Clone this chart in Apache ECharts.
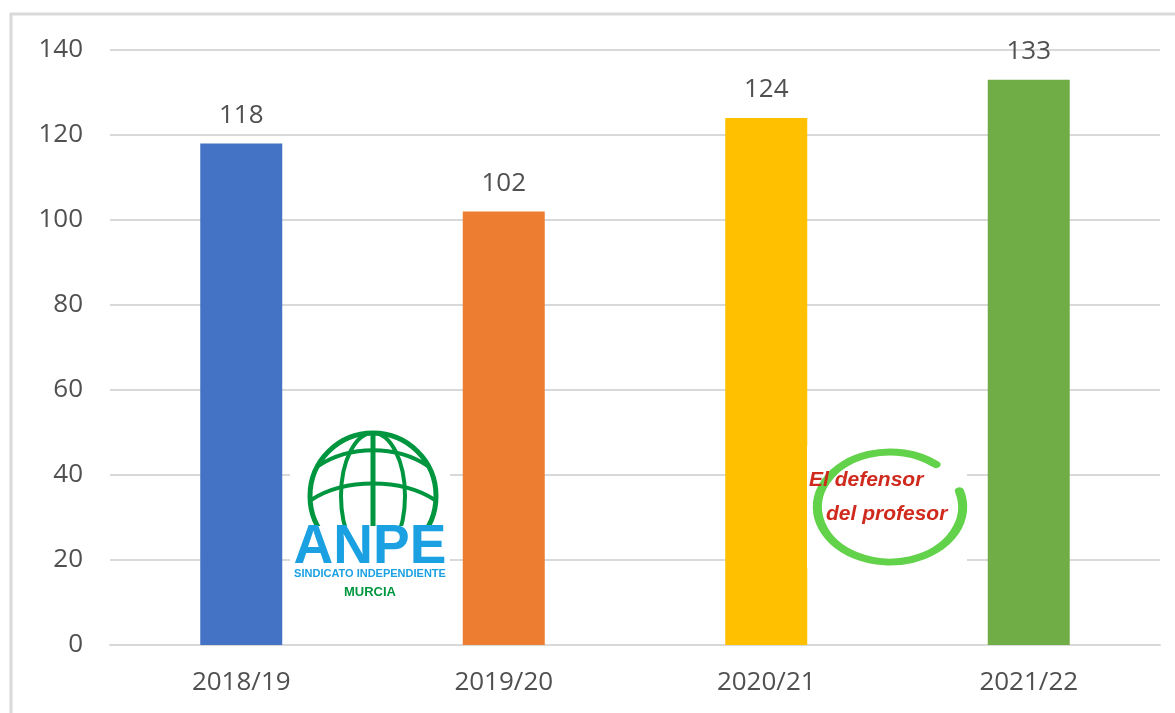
<!DOCTYPE html>
<html>
<head>
<meta charset="utf-8">
<script src="https://cdn.jsdelivr.net/npm/echarts@6/dist/echarts.min.js"></script>
<style>
  html, body { margin: 0; padding: 0; background: #fff; }
  #chart { width: 1175px; height: 713px; }
</style>
</head>
<body>
<div id="chart"></div>
<script>
// datos del gráfico
const cursos = ['2018/19', '2019/20', '2020/21', '2021/22'];
const casos = [118, 102, 124, 133];
const colores = ['#4472C4', '#ED7D31', '#FFC000', '#70AD47'];

const chart = echarts.init(document.getElementById('chart'));
const textColor = '#505050';
const gridColor = '#d9d9d9';
const verde = '#00963F';
const rojo = '#D02A1E';

const option = {
  animation: false,
  grid: { left: 110, right: 15, top: 50, bottom: 68 },
  xAxis: {
    type: 'category',
    data: cursos,
    axisLine: { lineStyle: { color: gridColor, width: 2 } },
    axisTick: { show: false },
    axisLabel: { color: textColor, fontSize: 26, margin: 25, fontFamily: 'Open Sans' }
  },
  yAxis: {
    type: 'value',
    min: 0,
    max: 140,
    interval: 20,
    axisLine: { show: false },
    axisTick: { show: false },
    splitLine: { lineStyle: { color: gridColor, width: 2 } },
    axisLabel: { color: textColor, fontSize: 26, margin: 27, fontFamily: 'Open Sans' }
  },
  series: [{
    type: 'bar',
    barWidth: 82,
    data: casos.map((v, i) => ({ value: v, itemStyle: { color: colores[i] } })),
    label: {
      show: true,
      position: 'top',
      distance: 15,
      color: textColor,
      fontSize: 26,
      fontFamily: 'Open Sans'
    }
  }],
  graphic: [
    // marco
    { type: 'rect', shape: { x: 11, y: 14, width: 1180, height: 720 },
      style: { fill: null, stroke: gridColor, lineWidth: 3 }, z: 0 },
    // logo ANPE
    { type: 'rect', shape: { x: 290, y: 428, width: 160, height: 178 },
      style: { fill: '#fff' }, z: 10 },
    { type: 'circle', shape: { cx: 373, cy: 496, r: 63 },
      style: { fill: null, stroke: verde, lineWidth: 5 }, z: 11 },
    { type: 'ellipse', shape: { cx: 373, cy: 496, rx: 32, ry: 63 },
      style: { fill: null, stroke: verde, lineWidth: 4 }, z: 11 },
    { type: 'line', shape: { x1: 373, y1: 433, x2: 373, y2: 540 },
      style: { stroke: verde, lineWidth: 5 }, z: 11 },
    { type: 'bezierCurve', shape: { x1: 318, y1: 466, x2: 428, y2: 466, cpx1: 350, cpy1: 445, cpx2: 396, cpy2: 445 },
      style: { stroke: verde, lineWidth: 4, fill: null }, z: 11 },
    { type: 'bezierCurve', shape: { x1: 311, y1: 500, x2: 435, y2: 500, cpx1: 345, cpy1: 478, cpx2: 401, cpy2: 478 },
      style: { stroke: verde, lineWidth: 4, fill: null }, z: 11 },
    { type: 'rect', shape: { x: 292, y: 526, width: 156, height: 76 },
      style: { fill: '#fff' }, z: 12 },
    { type: 'text', x: 370, y: 548, z: 13,
      style: { text: 'ANPE', fill: '#1BA1E2', font: 'bold 55px "Liberation Sans"',
        align: 'center', verticalAlign: 'middle' } },
    { type: 'text', x: 370, y: 574, z: 13,
      style: { text: 'SINDICATO INDEPENDIENTE', fill: '#1BA1E2', font: 'bold 11px "Liberation Sans"',
        align: 'center', verticalAlign: 'middle' } },
    { type: 'text', x: 370, y: 592, z: 13,
      style: { text: 'MURCIA', fill: verde, font: 'bold 13px "Liberation Sans"',
        align: 'center', verticalAlign: 'middle' } },
    // logo El defensor del profesor
    { type: 'rect', shape: { x: 807, y: 446, width: 160, height: 122 },
      style: { fill: '#fff' }, z: 10 },
    { type: 'arc', shape: { cx: 890, cy: 507, r: 55, startAngle: -0.3, endAngle: 5.4, clockwise: true },
      scaleX: 1.32, originX: 890, originY: 507,
      style: { stroke: '#62D24A', lineWidth: 7, fill: null, lineCap: 'round' }, z: 11 },
    { type: 'text', x: 809, y: 480, z: 12,
      style: { text: 'El defensor', fill: rojo, font: 'italic bold 21px "Liberation Sans"',
        align: 'left', verticalAlign: 'middle' } },
    { type: 'text', x: 826, y: 514, z: 12,
      style: { text: 'del profesor', fill: rojo, font: 'italic bold 21px "Liberation Sans"',
        align: 'left', verticalAlign: 'middle' } }
  ]
};

chart.setOption(option);
</script>
</body>
</html>
